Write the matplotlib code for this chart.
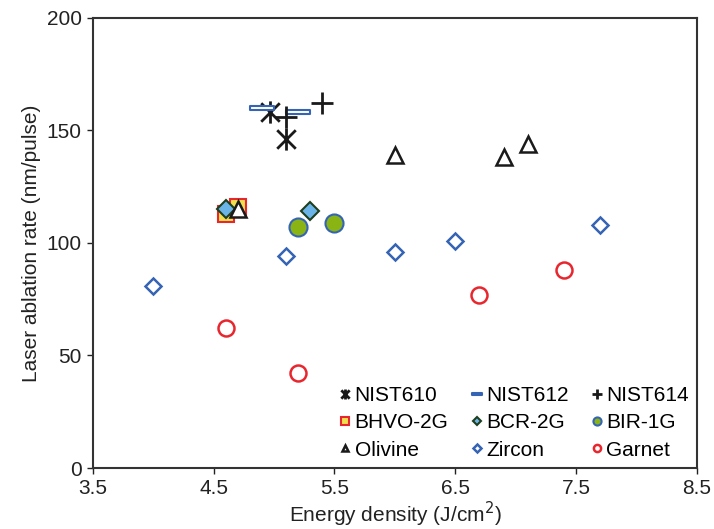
import matplotlib
matplotlib.use("Agg")
import matplotlib.pyplot as plt
from matplotlib.path import Path
import numpy as np

plt.rcParams['font.family'] = ['Liberation Sans', 'DejaVu Sans']

# Data
nist610_x = [4.97, 5.1]
nist610_y = [158, 146]
nist612_x = [4.9, 5.2]
nist612_y = [160, 158]
nist614_x = [5.1, 5.4]
nist614_y = [156, 162]
bhvo_x = [4.6, 4.7]
bhvo_y = [113, 116]
bcr_x = [4.6, 5.3]
bcr_y = [115, 114]
bir_x = [5.2, 5.5]
bir_y = [107, 109]
olivine_x = [4.7, 6.0, 6.9, 7.1]
olivine_y = [115, 139, 138, 144]
zircon_x = [4.0, 5.1, 6.0, 6.5, 7.7]
zircon_y = [81, 94, 96, 101, 108]
garnet_x = [4.6, 5.2, 6.7, 7.4]
garnet_y = [62, 42, 77, 88]

xticks = [3.5, 4.5, 5.5, 6.5, 7.5, 8.5]
yticks = [0, 50, 100, 150, 200]

star = Path([(-1, -1), (1, 1), (-1, 1), (1, -1), (0, -1.2), (0, 1.2)],
            [Path.MOVETO, Path.LINETO, Path.MOVETO, Path.LINETO, Path.MOVETO, Path.LINETO])
dash = Path([(-1, -0.2), (1, -0.2), (1, 0.2), (-1, 0.2), (-1, -0.2)],
            [Path.MOVETO, Path.LINETO, Path.LINETO, Path.LINETO, Path.CLOSEPOLY])

fig = plt.figure(figsize=(7.14, 5.29), dpi=100)
ax = fig.add_axes([0.130, 0.1153, 0.846, 0.851])

blue = '#3564B4'
red = '#E8262E'

h = {}
h['NIST610'], = ax.plot(nist610_x, nist610_y, ls='none', marker=star, ms=16, mec='#1a1a1a', mfc='none', mew=2, label='NIST610')
h['NIST612'], = ax.plot(nist612_x, nist612_y, ls='none', marker=dash, ms=17, mec=blue, mfc='white', mew=1.5, label='NIST612')
h['NIST614'], = ax.plot(nist614_x, nist614_y, ls='none', marker='+', ms=16, mec='#1a1a1a', mew=2, label='NIST614')
h['BHVO-2G'], = ax.plot(bhvo_x, bhvo_y, ls='none', marker='s', ms=11.5, mec=red, mfc='#F0E050', mew=1.5, label='BHVO-2G')
h['BCR-2G'], = ax.plot(bcr_x, bcr_y, ls='none', marker='D', ms=9, mec='#1E3F1E', mfc='#6BB4E8', mew=1.5, label='BCR-2G')
h['BIR-1G'], = ax.plot(bir_x, bir_y, ls='none', marker='o', ms=13, mec=blue, mfc='#8AB414', mew=1.5, label='BIR-1G')
h['Olivine'], = ax.plot(olivine_x, olivine_y, ls='none', marker='^', ms=11, mec='#1a1a1a', mfc='white', mew=1.8, label='Olivine')
h['Zircon'], = ax.plot(zircon_x, zircon_y, ls='none', marker='D', ms=8.5, mec=blue, mfc='white', mew=1.8, label='Zircon')
h['Garnet'], = ax.plot(garnet_x, garnet_y, ls='none', marker='o', ms=11.5, mec=red, mfc='white', mew=1.8, label='Garnet')

ax.set_xlim(3.5, 8.5)
ax.set_ylim(0, 200)
ax.set_xticks(xticks)
ax.set_xticklabels([str(t) for t in xticks])
ax.set_yticks(yticks)
ax.tick_params(direction='out', length=4, width=1, labelsize=15, colors='#222222', pad=4)
for s in ax.spines.values():
    s.set_linewidth(1.5)
    s.set_color('#333333')
ax.set_xlabel('Energy density (J/cm$^2$)', fontsize=15, color='#222222', labelpad=1)
ax.set_ylabel('Laser ablation rate (nm/pulse)', fontsize=15, color='#222222', labelpad=4)

order = ['NIST610', 'BHVO-2G', 'Olivine', 'NIST612', 'BCR-2G', 'Zircon', 'NIST614', 'BIR-1G', 'Garnet']
leg = ax.legend([h[k] for k in order], order, ncol=3, loc='lower right',
                bbox_to_anchor=(1.0, 0.0), frameon=False, fontsize=15,
                markerscale=0.45, handlelength=0.5, handletextpad=0.2,
                columnspacing=1.1, labelspacing=0.4, borderaxespad=0.0)

fig.savefig('out.png', dpi=100)
